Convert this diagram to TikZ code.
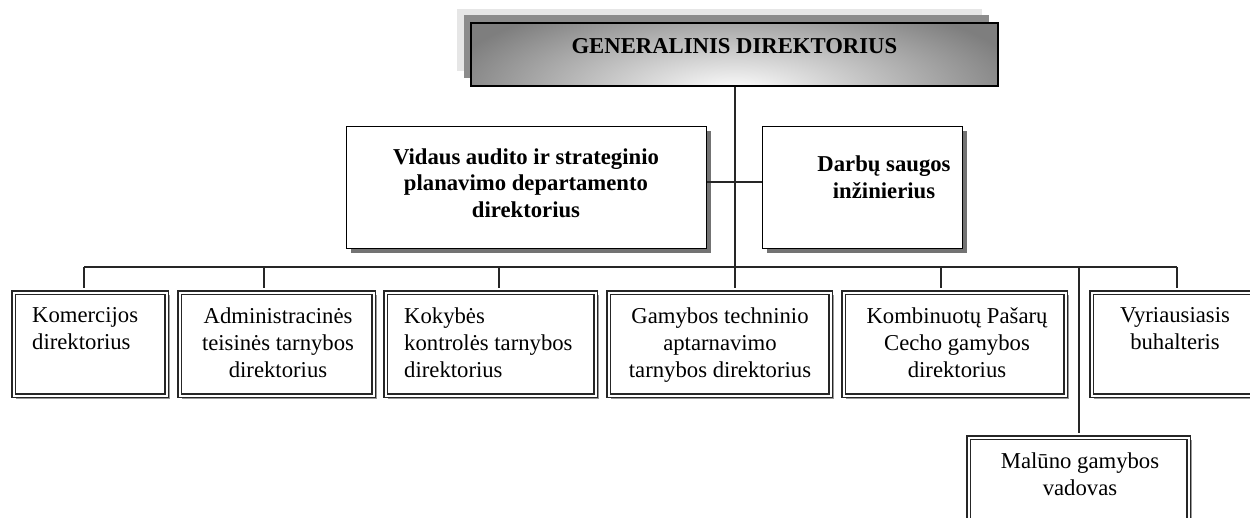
\documentclass[tikz,border=0pt]{standalone}
\usepackage{fontspec}
\setmainfont{Liberation Serif}
\usetikzlibrary{shadows}
\definecolor{framelight}{HTML}{E6E6E6}
\definecolor{framemid}{HTML}{8C8C8C}
\definecolor{headgray}{HTML}{7E7E7E}
\begin{document}
\begin{tikzpicture}[x=1pt, y=-1pt,
  txt/.style={inner sep=0pt, font=\fontsize{22.7}{27}\selectfont, align=center},
  btxt/.style={inner sep=0pt, font=\fontsize{22.7}{26.5}\selectfont\bfseries, align=center},
  conn/.style={draw=black!85, line width=1.3pt},
  headbox/.style={anchor=north west, draw=black, line width=1.8pt, fill=headgray,
    inner xsep=0pt, inner ysep=11pt, text height=20pt, text depth=21pt,
    font=\fontsize{22.7}{27}\selectfont\bfseries,
    path picture={\shade[inner color=white, outer color=headgray]
      ([yshift=-6pt]path picture bounding box.south) ellipse [x radius=295, y radius=100];}},
  midbox/.style={anchor=north west, draw=black, line width=1.2pt, fill=white,
    inner sep=0pt, minimum height=122,
    drop shadow={shadow xshift=4pt, shadow yshift=-4pt, fill=black!55, opacity=1}},
  lowbox/.style={anchor=north west, draw=black!85, line width=1.3pt, double=white,
    double distance=2pt, fill=white, inner sep=0pt, minimum height=103,
    drop shadow={shadow xshift=3pt, shadow yshift=-3pt, fill=none, draw=black!40,
      line width=1.2pt, opacity=1}},
]
\useasboundingbox (0,0) rectangle (1250,518);
\clip (0,0) rectangle (1250,518);

% layered frame behind the head box
\fill[framelight] (457,9) rectangle (982,71);
\fill[framemid] (464,15) rectangle (989,78);
\node[headbox, minimum width=527] (gd) at (470,22) {GENERALINIS DIREKTORIUS};

% staff level
\node[midbox, minimum width=360] (vid) at (346,126) {};
\node[midbox, minimum width=200] (darb) at (762,126) {};
\node[btxt, anchor=north] (vidt) at (526,148.5)
  {Vidaus audito ir strateginio\\planavimo departamento\\direktorius};
\node[btxt, anchor=north] (darbt) at (884,156) {Darbų saugos\\inžinierius};

% line level
\node[lowbox, minimum width=153] (kom) at (13,292) {};
\node[lowbox, minimum width=194] (adm) at (179,292) {};
\node[lowbox, minimum width=210] (kok) at (385,292) {};
\node[lowbox, minimum width=222] (gam) at (608,292) {};
\node[lowbox, minimum width=222] (kmb) at (843,292) {};
\node[lowbox, minimum width=168] (vyr) at (1091,292) {};
\node[lowbox, minimum width=220] (mal) at (968,437) {};

\node[txt, anchor=north west, align=left] (komt) at (32,307.5) {Komercijos\\direktorius};
\node[txt, anchor=north] (admt) at (278,307.5) {Administracinės\\teisinės tarnybos\\direktorius};
\node[txt, anchor=north west, align=left] (kokt) at (404,307.5) {Kokybės\\kontrolės tarnybos\\direktorius};
\node[txt, anchor=north] (gamt) at (720,307.5) {Gamybos techninio\\aptarnavimo\\tarnybos direktorius};
\node[txt, anchor=north] (kmbt) at (957,307.5) {Kombinuotų Pašarų\\Cecho gamybos\\direktorius};
\node[txt, anchor=north] (vyrt) at (1175,307.5) {Vyriausiasis\\buhalteris};
\node[txt, anchor=north] (malt) at (1080,452.5) {Malūno gamybos\\vadovas};

% connectors
\coordinate (trunk) at (735,267);
\coordinate (midy) at (0,182);
\coordinate (dkom) at (84,267);
\coordinate (dadm) at (264,267);
\coordinate (dkok) at (499,267);
\coordinate (dkmb) at (941,267);
\coordinate (dmal) at (1079,267);
\coordinate (dvyr) at (1177,267);

\draw[conn] (gd.south -| trunk) -- (trunk);
\draw[conn, shorten >=4pt] (trunk) -- (trunk |- gam.north);
\draw[conn] (vid.east |- midy) -- (darb.west |- midy);
\draw[conn] (dkom) -- (dvyr);
\foreach \d/\n in {dkom/kom, dadm/adm, dkok/kok, dkmb/kmb, dmal/mal, dvyr/vyr}
  \draw[conn, shorten >=4pt] (\d) -- (\d |- \n.north);
\end{tikzpicture}
\end{document}
